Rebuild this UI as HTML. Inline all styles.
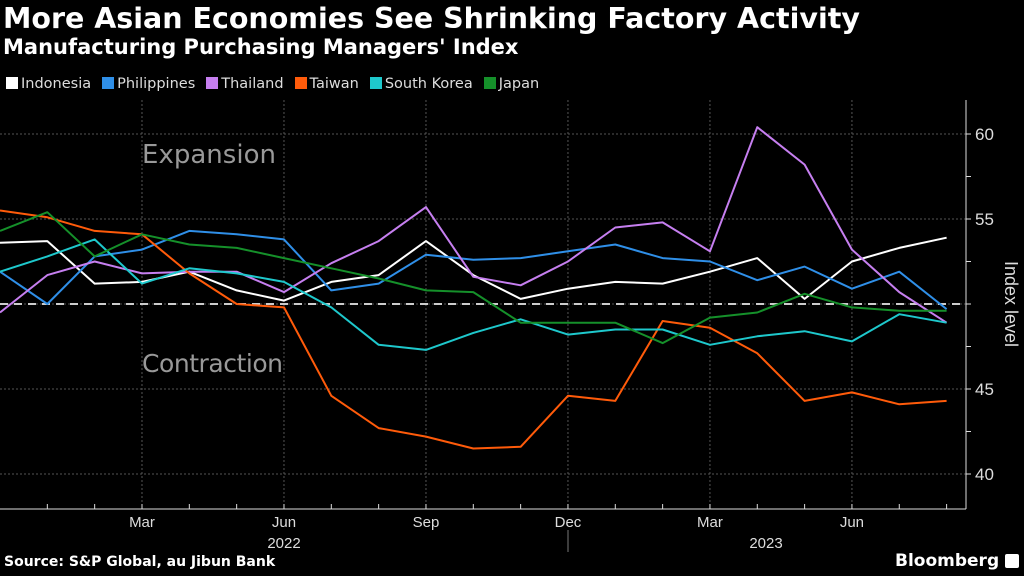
<!DOCTYPE html>
<html><head><meta charset="utf-8"><style>
body{margin:0;background:#000;width:1024px;height:576px;overflow:hidden;font-family:"DejaVu Sans","Liberation Sans",sans-serif;color:#fff}
#title{position:absolute;left:3px;top:2px;font-size:28.5px;font-weight:bold;letter-spacing:0px;white-space:nowrap}
#sub{position:absolute;left:3px;top:35px;font-size:21px;font-weight:bold;white-space:nowrap}
#legend{position:absolute;left:6px;top:76px;font-size:14.5px;color:#ddd;display:flex;gap:11px;white-space:nowrap}
.le span.sw{display:inline-block;width:12px;height:12px;margin-right:3px;vertical-align:-1px}
#src{position:absolute;left:4px;top:554px;font-size:14px;font-weight:bold}
#bb{position:absolute;left:895px;top:551px;font-size:17px;font-weight:bold}
svg{position:absolute;left:0;top:0}
</style></head><body>
<div id="title">More Asian Economies See Shrinking Factory Activity</div>
<div id="sub">Manufacturing Purchasing Managers' Index</div>
<div id="legend"></div>
<svg id="chart" width="1024" height="576"></svg>
<div id="src">Source: S&amp;P Global, au Jibun Bank</div>
<div id="bb">Bloomberg <span style="display:inline-block;width:14px;height:14px;background:#fff;border-radius:2px;vertical-align:-2px"></span></div>
<script>
const seriesNames=["Indonesia","Philippines","Thailand","Taiwan","South Korea","Japan"];
const seriesColors=["#ffffff","#2f8fe8","#c67ff0","#ff5b0a","#1ec8cc","#15902a"];
const indonesia=[53.6,53.7,51.2,51.3,51.9,50.8,50.2,51.3,51.7,53.7,51.7,50.3,50.9,51.3,51.2,51.9,52.7,50.3,52.5,53.3,53.9];
const philippines=[51.9,50.0,52.8,53.2,54.3,54.1,53.8,50.8,51.2,52.9,52.6,52.7,53.1,53.5,52.7,52.5,51.4,52.2,50.9,51.9,49.7];
const thailand=[49.5,51.7,52.5,51.8,51.9,51.9,50.7,52.4,53.7,55.7,51.6,51.1,52.5,54.5,54.8,53.1,60.4,58.2,53.2,50.7,48.9];
const taiwan=[55.5,55.1,54.3,54.1,51.8,50.0,49.8,44.6,42.7,42.2,41.5,41.6,44.6,44.3,49.0,48.6,47.1,44.3,44.8,44.1,44.3];
const southKorea=[51.9,52.8,53.8,51.2,52.1,51.8,51.3,49.8,47.6,47.3,48.3,49.1,48.2,48.5,48.5,47.6,48.1,48.4,47.8,49.4,48.9];
const japan=[54.3,55.4,52.8,54.1,53.5,53.3,52.7,52.1,51.5,50.8,50.7,48.9,48.9,48.9,47.7,49.2,49.5,50.6,49.8,49.6,49.6];
const yTicks=[40,45,50,55,60];
const xLabels=["Mar","Jun","Sep","Dec","Mar","Jun"];
const xLabelIdx=[3,6,9,12,15,18];
const allSeries=[indonesia,philippines,thailand,taiwan,southKorea,japan];
const NS="http://www.w3.org/2000/svg";
const svg=document.getElementById('chart');
const X=i=>i*47.33;
const Y=v=>304-(v-50)*17;
function el(t,a){const e=document.createElementNS(NS,t);for(const k in a)e.setAttribute(k,a[k]);svg.appendChild(e);return e;}
const lg=document.getElementById('legend');
seriesNames.forEach((n,i)=>{const d=document.createElement('div');d.className='le';


d.innerHTML='<span class="sw" style="background:'+seriesColors[i]+'"></span>'+n;lg.appendChild(d);});
yTicks.forEach(v=>{const g=el('line',{x1:0,x2:966,y1:Y(v),y2:Y(v),stroke:'#555','stroke-dasharray':'2,2','stroke-width':1});


if(v!==50){const t=el('text',{x:975,y:Y(v)+6,fill:'#ddd','font-size':17,'font-family':'Liberation Sans, sans-serif'});t.textContent=v;

}});
for(let v=37.5;v<=62.5;v+=2.5){if(Y(v)>100&&Y(v)<509)el('line',{x1:966,x2:971,y1:Y(v),y2:Y(v),stroke:'#ddd'});}
xLabelIdx.forEach((i,k)=>{const g=el('line',{x1:X(i),x2:X(i),y1:100,y2:509,stroke:'#555','stroke-dasharray':'2,2'});


const t=el('text',{x:X(i),y:527,fill:'#ddd','font-size':15,'text-anchor':'middle','font-family':'Liberation Sans, sans-serif'});t.textContent=xLabels[k];

});
for(let i=1;i<=20;i++)el('line',{x1:X(i),x2:X(i),y1:509,y2:504,stroke:'#ddd'});
el('line',{x1:0,x2:966,y1:509,y2:509,stroke:'#ddd'});
el('line',{x1:966,x2:966,y1:100,y2:509,stroke:'#ddd'});
el('line',{x1:568,x2:568,y1:530,y2:552,stroke:'#777'});
[["2022",284],["2023",766]].forEach(a=>{const t=el('text',{x:a[1],y:548,fill:'#ddd','font-size':15,'text-anchor':'middle','font-family':'Liberation Sans, sans-serif'});t.textContent=a[0];

});
const yt=el('text',{x:0,y:0,fill:'#ddd','font-size':18,'text-anchor':'middle','font-family':'Liberation Sans, sans-serif',transform:'translate(1005,304) rotate(90)'});yt.textContent='Index level';


[["Expansion",163,26],["Contraction",372,25]].forEach(a=>{const t=el('text',{x:142,y:a[1],fill:'#999','font-size':a[2],'font-family':'DejaVu Sans, sans-serif','textLength':a[0]==='Contraction'?141:134});t.textContent=a[0];

});
el('line',{x1:0,x2:966,y1:Y(50),y2:Y(50),stroke:'#ccc','stroke-width':2,'stroke-dasharray':'8,6'});
allSeries.forEach((s,k)=>{const p=el('polyline',{points:s.map((v,i)=>X(i)+','+Y(v)).join(' '),fill:'none',stroke:seriesColors[k],'stroke-width':2,'stroke-linejoin':'round'});

});
</script>
</body></html>
